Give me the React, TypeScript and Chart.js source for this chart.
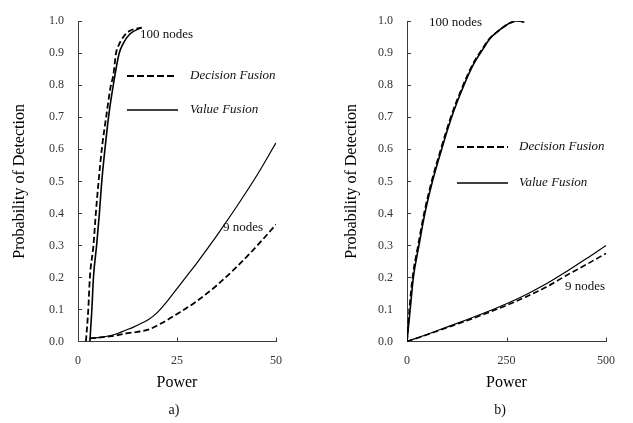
import React, { useEffect, useRef } from 'react';
import { Chart, registerables } from 'chart.js';

Chart.register(...registerables);
Chart.defaults.font.family = "'Liberation Serif', 'Times New Roman', serif";

// ---------- Panel a) : power 0..50 ----------
const aDecision100X = [2.0, 2.6, 3.0, 3.9, 4.5, 5.2, 6.0, 7.1, 8.3, 8.9, 9.6, 10.1, 11.4, 13.1, 16.1];
const aDecision100Y = [0.0, 0.1, 0.2, 0.3, 0.4, 0.5, 0.6, 0.7, 0.8, 0.83, 0.9, 0.92, 0.95, 0.97, 0.98];
const aValue100X = [3.0, 3.5, 3.9, 4.7, 5.4, 6.0, 6.8, 7.7, 8.9, 10.4, 11.4, 13.1, 16.0];
const aValue100Y = [0.0, 0.1, 0.2, 0.3, 0.4, 0.5, 0.6, 0.7, 0.8, 0.9, 0.93, 0.96, 0.98];
const aValue9X = [3, 5, 8, 10, 12, 14, 16, 18, 20, 22.5, 25, 27.5, 30, 35, 40, 45, 50];
const aValue9Y = [0.01, 0.012, 0.018, 0.025, 0.035, 0.045, 0.057, 0.07, 0.09, 0.125, 0.165, 0.205, 0.245, 0.33, 0.42, 0.515, 0.62];
const aDecision9X = [3, 5, 8, 10, 12, 15, 18, 20, 22.5, 25, 27.5, 30, 35, 40, 45, 50];
const aDecision9Y = [0.01, 0.012, 0.016, 0.02, 0.025, 0.03, 0.038, 0.05, 0.067, 0.086, 0.105, 0.126, 0.175, 0.232, 0.296, 0.365];

// ---------- Panel b) : power 0..500 ----------
const bValue100X = [0, 8, 16, 30, 45, 64, 87, 112, 143, 167, 192, 208, 225, 250, 270, 285, 295];
const bValue100Y = [0, 0.1, 0.2, 0.3, 0.4, 0.5, 0.6, 0.7, 0.8, 0.865, 0.915, 0.945, 0.965, 0.988, 1.0, 1.0, 0.997];
const bDecision100X = [0, 6, 14, 28, 43, 62, 85, 110, 141, 165, 190, 207, 225, 250, 272, 285, 295];
const bDecision100Y = [0, 0.1, 0.2, 0.3, 0.4, 0.5, 0.6, 0.7, 0.8, 0.865, 0.915, 0.945, 0.965, 0.988, 1.0, 1.0, 0.997];
const bNine9X = [0, 50, 100, 150, 200, 250, 300, 350, 400, 450, 500];
const bValue9Y = [0, 0.022, 0.045, 0.068, 0.092, 0.118, 0.147, 0.18, 0.218, 0.258, 0.3];
const bDecision9Y = [0, 0.021, 0.043, 0.065, 0.088, 0.113, 0.14, 0.17, 0.206, 0.24, 0.275];

const yTicks = [0, 0.1, 0.2, 0.3, 0.4, 0.5, 0.6, 0.7, 0.8, 0.9, 1.0];
const aXTicks = [0, 25, 50];
const bXTicks = [0, 250, 500];

const legendDecision = 'Decision Fusion';
const legendValue = 'Value Fusion';
const label100 = '100 nodes';
const label9 = '9 nodes';

const zip = (xs: number[], ys: number[]) => xs.map((x, i) => ({ x, y: ys[i] }));

const AXIS = '#3a3a3a';
const TICKTXT = '#333333';

type PanelProps = {
  left: number;
  width: number;
  xMax: number;
  xTicks: number[];
  yAxisWidth: number;
  padRight: number;
  yTitlePad: number;
  datasets: { data: { x: number; y: number }[]; dashed: boolean; width: number }[];
  notes: { text: string; x: number; y: number; italic?: boolean; align?: CanvasTextAlign; size?: number }[];
  legendLines: { x1: number; x2: number; y: number; dashed: boolean }[];
};

function Panel(p: PanelProps) {
  const ref = useRef<HTMLCanvasElement | null>(null);
  useEffect(() => {
    if (!ref.current) return;
    const decor = {
      id: 'decor',
      afterDraw(chart: any) {
        const ctx = chart.ctx;
        const xs = chart.scales.x;
        const ys = chart.scales.y;
        const ca = chart.chartArea;
        ctx.save();
        // inner tick marks
        ctx.strokeStyle = AXIS;
        ctx.lineWidth = 1;
        ctx.beginPath();
        p.xTicks.forEach((v) => {
          if (v === 0) return;
          const px = Math.round(xs.getPixelForValue(v)) + 0.5;
          ctx.moveTo(px, ca.bottom);
          ctx.lineTo(px, ca.bottom - 4);
        });
        yTicks.forEach((v) => {
          if (v === 0) return;
          const py = Math.round(ys.getPixelForValue(v)) + 0.5;
          ctx.moveTo(ca.left, py);
          ctx.lineTo(ca.left + 4, py);
        });
        ctx.stroke();
        // legend lines
        p.legendLines.forEach((l) => {
          ctx.beginPath();
          ctx.strokeStyle = '#000';
          ctx.lineWidth = l.dashed ? 2 : 1.5;
          ctx.setLineDash(l.dashed ? [7, 3] : []);
          ctx.moveTo(l.x1, l.y);
          ctx.lineTo(l.x2, l.y);
          ctx.stroke();
        });
        ctx.setLineDash([]);
        // texts
        p.notes.forEach((n) => {
          ctx.fillStyle = '#111';
          ctx.font = `${n.italic ? 'italic ' : ''}${n.size || 13}px 'Liberation Serif', serif`;
          ctx.textAlign = n.align || 'left';
          ctx.textBaseline = 'middle';
          ctx.fillText(n.text, n.x, n.y);
        });
        ctx.restore();
      },
    };
    const chart = new Chart(ref.current, {
      type: 'line',
      data: {
        datasets: p.datasets.map((d) => ({
          data: d.data,
          borderColor: '#000',
          borderWidth: d.width,
          borderDash: d.dashed ? [6, 3] : [],
          pointRadius: 0,
          fill: false,
          cubicInterpolationMode: 'monotone' as const,
        })),
      },
      options: {
        animation: false,
        responsive: false,
        devicePixelRatio: 1,
        layout: { padding: { left: 0, right: p.padRight, top: 12.5, bottom: 0 } },
        plugins: { legend: { display: false }, tooltip: { enabled: false }, title: { display: false } },
        scales: {
          x: {
            type: 'linear',
            min: 0,
            max: p.xMax,
            afterBuildTicks: (s: any) => {
              s.ticks = p.xTicks.map((v) => ({ value: v }));
            },
            ticks: { font: { size: 12 }, color: TICKTXT, padding: 12, maxRotation: 0 },
            grid: { display: false, drawTicks: false },
            border: { display: true, color: AXIS, width: 1 },
            title: {
              display: true,
              text: 'Power',
              color: '#000',
              font: { size: 16 },
              padding: { top: 0, bottom: 30.4 },
            },
            afterFit: (s: any) => {
              s.height = 81.5;
            },
          },
          y: {
            type: 'linear',
            min: 0,
            max: 1,
            afterBuildTicks: (s: any) => {
              s.ticks = yTicks.map((v) => ({ value: v }));
            },
            ticks: {
              font: { size: 12 },
              color: TICKTXT,
              padding: 14,
              callback: (v: any) => Number(v).toFixed(1),
            },
            grid: { display: false, drawTicks: false },
            border: { display: true, color: AXIS, width: 1 },
            title: {
              display: true,
              text: 'Probability of Detection',
              color: '#000',
              font: { size: 16 },
              padding: { top: p.yTitlePad, bottom: 0 },
            },
            afterFit: (s: any) => {
              s.width = p.yAxisWidth;
            },
          },
        },
      },
      plugins: [decor],
    } as any);
    return () => chart.destroy();
  }, []);
  return (
    <canvas
      ref={ref}
      width={p.width}
      height={423}
      style={{ position: 'absolute', left: p.left, top: 0, width: p.width, height: 423 }}
    />
  );
}

export default function App() {
  return (
    <div style={{ position: 'absolute', left: 0, top: 0, width: 633, height: 423, background: '#fff' }}>
      <Panel
        left={0}
        width={316}
        xMax={50}
        xTicks={aXTicks}
        yAxisWidth={78}
        padRight={40}
        yTitlePad={10.4}
        datasets={[
          { data: zip(aDecision100X, aDecision100Y), dashed: true, width: 1.8 },
          { data: zip(aValue100X, aValue100Y), dashed: false, width: 1.6 },
          { data: zip(aValue9X, aValue9Y), dashed: false, width: 1.2 },
          { data: zip(aDecision9X, aDecision9Y), dashed: true, width: 1.8 },
        ]}
        legendLines={[
          { x1: 127, x2: 177, y: 76, dashed: true },
          { x1: 127, x2: 178, y: 110, dashed: false },
        ]}
        notes={[
          { text: label100, x: 140, y: 35 },
          { text: label9, x: 223, y: 228 },
          { text: legendDecision, x: 190, y: 76, italic: true },
          { text: legendValue, x: 190, y: 110, italic: true },
          { text: 'a)', x: 174, y: 410, align: 'center', size: 14 },
        ]}
      />
      <Panel
        left={316}
        width={317}
        xMax={500}
        xTicks={bXTicks}
        yAxisWidth={91}
        padRight={27}
        yTitlePad={26.1}
        datasets={[
          { data: zip(bValue100X, bValue100Y), dashed: false, width: 1.6 },
          { data: zip(bDecision100X, bDecision100Y), dashed: true, width: 1.8 },
          { data: zip(bNine9X, bValue9Y), dashed: false, width: 1.2 },
          { data: zip(bNine9X, bDecision9Y), dashed: true, width: 1.6 },
        ]}
        legendLines={[
          { x1: 141, x2: 192, y: 147, dashed: true },
          { x1: 141, x2: 192, y: 183, dashed: false },
        ]}
        notes={[
          { text: label100, x: 113, y: 23 },
          { text: label9, x: 249, y: 287 },
          { text: legendDecision, x: 203, y: 147, italic: true },
          { text: legendValue, x: 203, y: 183, italic: true },
          { text: 'b)', x: 184, y: 410, align: 'center', size: 14 },
        ]}
      />
    </div>
  );
}
